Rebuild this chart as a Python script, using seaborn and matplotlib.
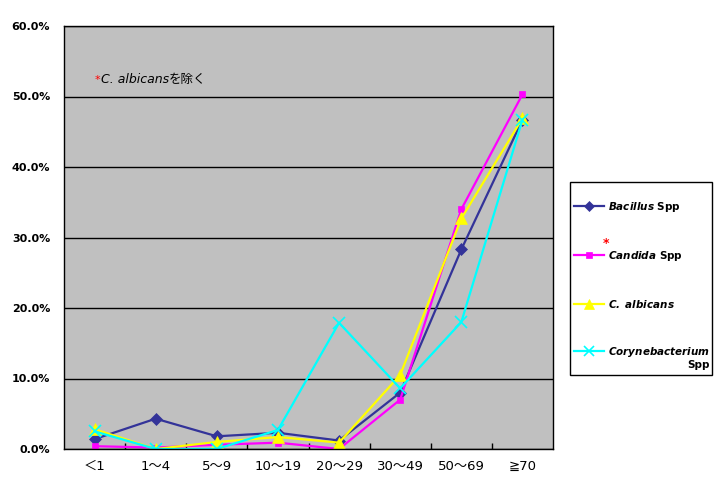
import matplotlib
matplotlib.use("Agg")
import numpy as np
import pandas as pd
import seaborn as sns
import matplotlib.pyplot as plt
from matplotlib.lines import Line2D
from matplotlib.patches import Rectangle
from matplotlib.ticker import PercentFormatter, FixedLocator
from matplotlib.offsetbox import TextArea, HPacker, AnchoredOffsetbox

# ---- data (percent) ----
age_groups = ["＜1", "1～4", "5～9", "10～19", "20～29", "30～49", "50～69", "≧70"]
bacillus = [1.4, 4.3, 1.8, 2.3, 1.2, 8.0, 28.3, 46.7]
candida = [0.4, 0.2, 0.6, 0.9, 0.0, 7.0, 34.0, 50.3]
albicans = [2.8, 0.0, 1.0, 1.7, 0.9, 10.5, 32.7, 46.9]
coryne = [2.5, 0.0, 0.0, 2.7, 17.9, 8.6, 18.0, 46.7]
series_names = ["Bacillus", "Candida", "C. albicans", "Corynebacterium"]
y_ticks = [0, 10, 20, 30, 40, 50, 60]

colors = ["#333399", "#FF00FF", "#FFFF00", "#00FFFF"]
markers = ["D", "s", "^", "x"]
msizes = [6, 5, 8, 8]

df = pd.DataFrame({
    "age": age_groups * 4,
    "pct": bacillus + candida + albicans + coryne,
    "series": np.repeat(series_names, len(age_groups)),
})

plt.rcParams["font.family"] = ["DejaVu Sans", "Noto Sans CJK JP"]

W, H = 728, 493
fig = plt.figure(figsize=(W / 100, H / 100), dpi=100)
fig.patch.set_facecolor("white")
ax = fig.add_axes([64 / W, 44 / H, (553 - 64) / W, (449 - 26) / H])
ax.set_facecolor("#C0C0C0")

for name, c, m, ms in zip(series_names, colors, markers, msizes):
    sub = df[df["series"] == name]
    sns.lineplot(data=sub, x="age", y="pct", color=c, marker=m, markersize=ms,
                 markeredgecolor=c, markeredgewidth=1.2 if m == "x" else 0.5,
                 linewidth=1.6, sort=False, ax=ax, legend=False)

ax.set_xlim(-0.5, len(age_groups) - 0.5)
ax.set_ylim(0, 60)
ax.set_yticks(y_ticks)
ax.yaxis.set_major_formatter(PercentFormatter(100, decimals=1))
ax.set_xticks(range(len(age_groups)))
ax.set_xticklabels(age_groups)
ax.xaxis.set_minor_locator(FixedLocator(np.arange(0.5, len(age_groups) - 1, 1.0)))
ax.tick_params(axis="x", which="major", length=0, pad=8, labelsize=9.5)
ax.tick_params(axis="x", which="minor", direction="in", length=4, width=1, color="black")
ax.tick_params(axis="y", length=0, pad=10, labelsize=8)
for t in ax.get_yticklabels():
    t.set_fontweight("bold")
ax.set_xlabel("")
ax.set_ylabel("")
ax.grid(axis="y", color="black", linewidth=1)
ax.grid(axis="x", visible=False)
ax.set_axisbelow(True)
for s in ax.spines.values():
    s.set_color("black")
    s.set_linewidth(1)

# annotation inside plot
star = TextArea("*", textprops=dict(color="red", fontsize=8))
t1 = TextArea("C. albicans", textprops=dict(color="black", fontsize=9, style="italic"))
t2 = TextArea("を除く", textprops=dict(color="black", fontsize=9, family="Noto Sans CJK JP"))
pack = HPacker(children=[star, t1, t2], align="baseline", pad=0, sep=0)
ab = AnchoredOffsetbox(loc="upper left", child=pack, frameon=False, pad=0, borderpad=0,
                       bbox_to_anchor=(95 / W, 1 - 73 / H), bbox_transform=fig.transFigure)
ax.add_artist(ab)

# legend frame
fig.add_artist(Rectangle((570 / W, 1 - 375 / H), (712 - 570) / W, (375 - 182) / H,
                         transform=fig.transFigure, facecolor="white", edgecolor="black",
                         linewidth=1, zorder=1))

labels = [r"$\mathbfit{Bacillus}$ Spp", r"$\mathbfit{Candida}$ Spp",
          r"$\mathbfit{C.\ albicans}$", r"$\mathbfit{Corynebacterium}$"]
handles = [Line2D([], [], color=c, marker=m, markersize=ms * 0.85, markeredgecolor=c,
                  markeredgewidth=1.2 if m == "x" else 0.5, linewidth=1.6)
           for c, m, ms in zip(colors, markers, msizes)]
fs = 7.5
leg = fig.legend(handles, labels, loc="upper left", bbox_to_anchor=(574 / W, 1 - 200 / H),
                 bbox_transform=fig.transFigure, frameon=False,
                 prop=dict(size=fs, weight="bold"),
                 labelspacing=3.36, handlelength=2.9, handletextpad=0.35,
                 borderpad=0, borderaxespad=0)
leg.set_zorder(2)

fig.canvas.draw()
inv = fig.transFigure.inverted()
bb1 = leg.get_texts()[1].get_window_extent()
x0, y1 = inv.transform((bb1.x0, bb1.y1))
fig.text(x0 - 2 / W, y1 - 1 / H, "*", color="red", fontsize=9, fontweight="bold",
         ha="center", va="bottom", zorder=5)
bb3 = leg.get_texts()[3].get_window_extent()
x1, y0 = inv.transform((bb3.x1, bb3.y0))
fig.text(x1, y0 - 1 / H, "Spp", fontsize=fs, fontweight="bold", ha="right", va="top", zorder=5)

fig.savefig("out.png", dpi=100)
